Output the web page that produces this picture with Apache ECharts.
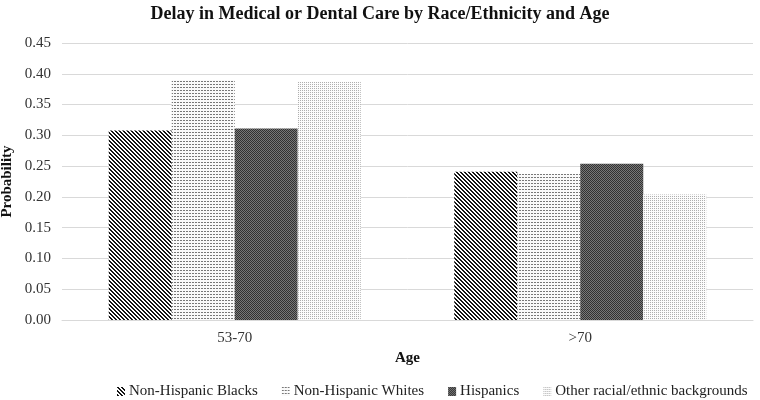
<!DOCTYPE html>
<html><head><meta charset="utf-8">
<script src="https://cdn.jsdelivr.net/npm/echarts@6/dist/echarts.min.js"></script>
<style>html,body{margin:0;padding:0;background:#fff}#c{width:760px;height:400px}</style>
</head><body><div id="c"></div>
<script>
const categories = ['53-70', '>70'];
const seriesNames = ['Non-Hispanic Blacks', 'Non-Hispanic Whites', 'Hispanics', 'Other racial/ethnic backgrounds'];
const blacks = [0.308, 0.241];
const whites = [0.390, 0.237];
const hispanics = [0.311, 0.254];
const others = [0.387, 0.204];
const yTicks = [0, 0.05, 0.10, 0.15, 0.20, 0.25, 0.30, 0.35, 0.40, 0.45];

function makePattern(w, h, fn) {
  const c = document.createElement('canvas');
  c.width = w; c.height = h;
  const ctx = c.getContext('2d');
  const img = ctx.createImageData(w, h);
  for (let y = 0; y < h; y++) for (let x = 0; x < w; x++) {
    const v = fn(x, y);
    const i = (y * w + x) * 4;
    img.data[i] = v; img.data[i+1] = v; img.data[i+2] = v; img.data[i+3] = 255;
  }
  ctx.putImageData(img, 0, 0);
  return { image: c, repeat: 'repeat' };
}
const patBlacks = makePattern(4, 4, (x, y) => (((x - y) % 4 + 4) % 4) < 2 ? 20 : 255);
const patWhites = makePattern(3, 3, (x, y) => (y === 0 && x !== 2) ? 120 : 250);
const patHisp = makePattern(2, 2, (x, y) => ((x + y) % 2 === 0) ? 50 : 120);
const patOther = makePattern(2, 2, (x, y) => (x === 0 && y === 0) ? 175 : 252);
const pats = [patBlacks, patWhites, patHisp, patOther];
const dataSets = [blacks, whites, hispanics, others];

const font = 'Liberation Serif';
const chart = echarts.init(document.getElementById('c'), null, { renderer: 'canvas' });
chart.setOption({
  backgroundColor: '#fff',
  animation: false,
  title: {
    text: 'Delay in Medical or Dental Care by Race/Ethnicity and Age',
    left: 'center', top: 0,
    textStyle: { fontFamily: font, fontSize: 18, fontWeight: 'bold', color: '#111' }
  },
  legend: {
    top: 379, left: 112,
    itemWidth: 8, itemHeight: 9, itemGap: 24,
    icon: 'rect',
    textStyle: { fontFamily: font, fontSize: 15, color: '#222', padding: [0, 0, 0, -1] },
    data: seriesNames
  },
  grid: { left: 62, right: 7, top: 43, bottom: 80, containLabel: false, outerBoundsMode: 'none' },
  xAxis: {
    type: 'category', data: categories,
    name: 'Age', nameLocation: 'middle', nameGap: 28,
    nameTextStyle: { fontFamily: font, fontSize: 15, fontWeight: 'bold', color: '#111' },
    axisLine: { show: true, lineStyle: { color: '#d9d9d9' } },
    axisTick: { show: false },
    axisLabel: { fontFamily: font, fontSize: 15, color: '#333', margin: 11 }
  },
  yAxis: {
    type: 'value', min: 0, max: 0.45, interval: 0.05,
    name: 'Probability', nameLocation: 'middle', nameGap: 47, nameMoveOverlap: false,
    nameTextStyle: { fontFamily: font, fontSize: 15, fontWeight: 'bold', color: '#111' },
    axisLine: { show: false }, axisTick: { show: false },
    splitLine: { lineStyle: { color: '#d9d9d9' } },
    axisLabel: { fontFamily: font, fontSize: 15, color: '#333', margin: 11,
      formatter: v => v.toFixed(2) }
  },
  series: seriesNames.map((n, i) => ({
    name: n, type: 'bar', data: dataSets[i],
    barWidth: 63, barGap: '0%',
    itemStyle: { color: pats[i] }
  }))
});
</script></body></html>
